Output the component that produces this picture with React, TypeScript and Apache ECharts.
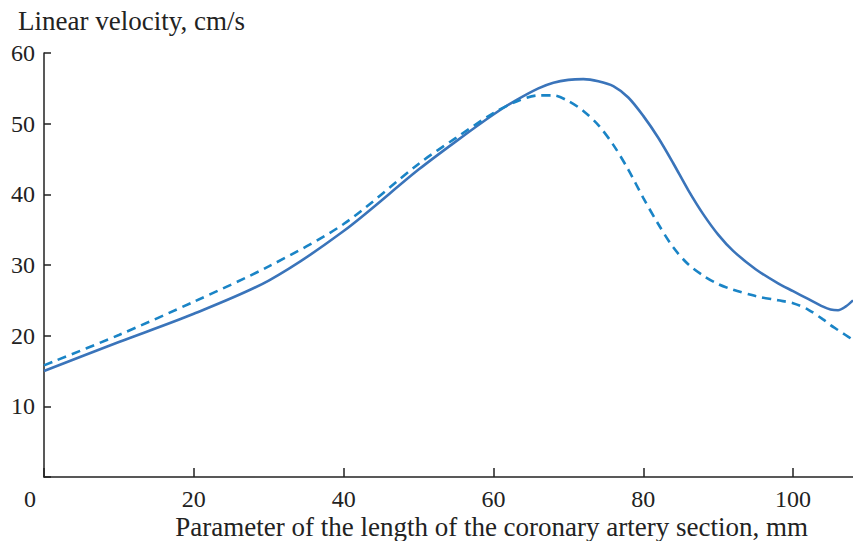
import React, { useEffect, useRef } from "react";
import * as echarts from "echarts";

const xValues = [0, 10, 20, 30, 40, 50, 55, 60, 63, 66, 68, 70, 72, 74, 76, 78, 80, 82, 84, 86, 88, 90, 92, 95, 98, 100, 102, 104, 105, 106, 107, 108];
const solidValues = [15, 19.1, 23.1, 27.8, 34.8, 43.5, 47.5, 51.3, 53.3, 55, 55.8, 56.2, 56.3, 56, 55.3, 53.7, 51.1, 48, 44.4, 40.6, 37.2, 34.3, 32, 29.4, 27.4, 26.3, 25.2, 24.1, 23.7, 23.6, 24.1, 25];
const dashedValues = [15.8, 20.1, 24.8, 29.8, 35.8, 44.3, 48, 51.5, 53.1, 54, 54, 53.2, 51.8, 49.8, 47, 43.5, 39.5, 35.8, 32.5, 30.1, 28.5, 27.3, 26.5, 25.6, 25, 24.6, 23.7, 22.3, 21.5, 20.8, 20.1, 19.4];
const yTitle = "Linear velocity, cm/s";
const xTitle = "Parameter of the length of the coronary artery section, mm";

const FONT = "'Liberation Serif', 'DejaVu Serif', serif";

export default function App() {
  const ref = useRef<HTMLDivElement>(null);
  useEffect(() => {
    if (!ref.current) return;
    const chart = echarts.init(ref.current, undefined, { renderer: "svg" });
    chart.setOption({
      animation: false,
      backgroundColor: "#ffffff",
      title: {
        text: yTitle,
        left: 13,
        top: 2,
        textStyle: { fontFamily: FONT, fontSize: 27, fontWeight: "normal", color: "#222" },
      },
      grid: { left: 44, right: 0, top: 53, bottom: 64, containLabel: false },
      xAxis: {
        type: "value",
        min: 0,
        max: 108,
        interval: 20,
        axisLine: { show: true, lineStyle: { color: "#222", width: 1.5 } },
        axisTick: { show: true, inside: true, length: 9, lineStyle: { color: "#222", width: 1.5 } },
        axisLabel: {
          margin: 10,
          fontFamily: FONT,
          fontSize: 24,
          lineHeight: 24,
          color: "#222",
          showMaxLabel: false,
          formatter: (v: number) => (v === 0 ? "" : String(v)),
        },
        splitLine: { show: false },
      },
      yAxis: {
        type: "value",
        min: 0,
        max: 60,
        interval: 10,
        axisLine: { show: true, lineStyle: { color: "#222", width: 1.5 } },
        axisTick: { show: true, inside: true, length: 7, lineStyle: { color: "#222", width: 1.5 } },
        axisLabel: {
          margin: 9,
          fontFamily: FONT,
          fontSize: 24,
          color: "#222",
          formatter: (v: number) => (v === 0 ? "" : String(v)),
        },
        splitLine: { show: false },
      },
      graphic: [
        {
          type: "text",
          left: 24,
          top: 487,
          style: { text: "0", font: `24px ${FONT}`, fill: "#222" },
        },
        {
          type: "text",
          right: 45,
          top: 513,
          style: { text: xTitle, font: `27px ${FONT}`, fill: "#222" },
        },
      ],
      series: [
        {
          type: "line",
          data: xValues.map((x, i) => [x, solidValues[i]]),
          smooth: 0.3,
          showSymbol: false,
          lineStyle: { color: "#3a74ba", width: 2.6 },
        },
        {
          type: "line",
          data: xValues.map((x, i) => [x, dashedValues[i]]),
          smooth: 0.3,
          showSymbol: false,
          lineStyle: { color: "#1a84c6", width: 2.6, type: [9, 6] },
        },
      ],
    });
    return () => chart.dispose();
  }, []);
  return <div ref={ref} style={{ position: "fixed", left: 0, top: 0, width: 853, height: 541 }} />;
}
